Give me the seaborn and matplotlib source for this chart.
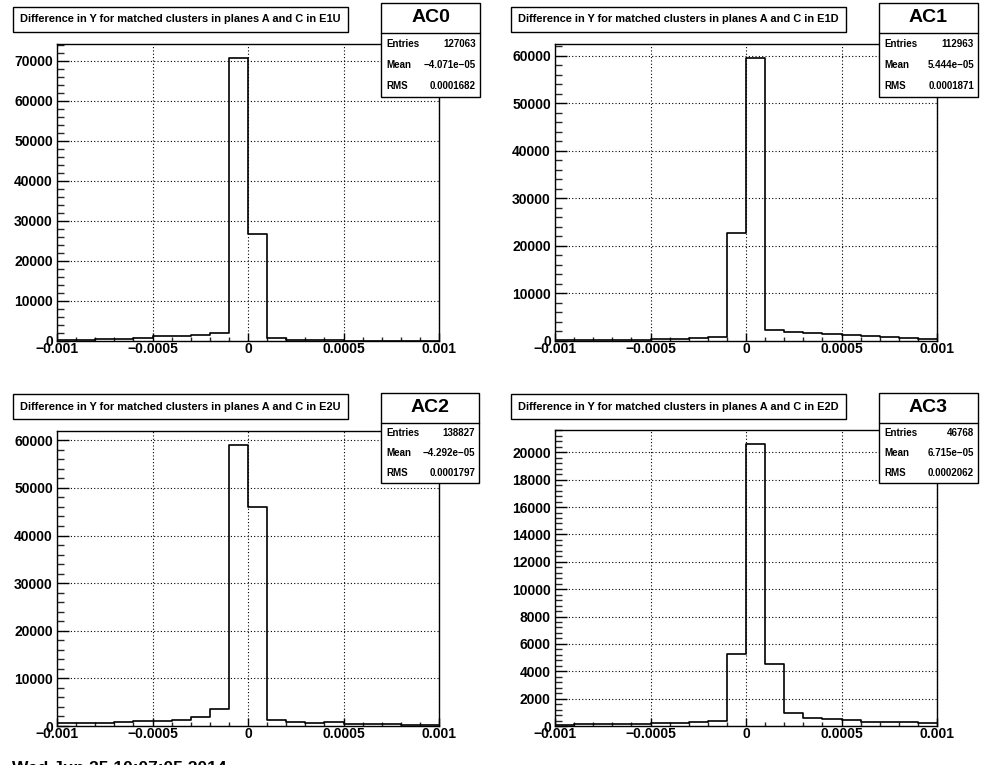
import numpy as np
import pandas as pd
import seaborn as sns
import matplotlib
matplotlib.use("Agg")
import matplotlib.pyplot as plt
from matplotlib.ticker import MultipleLocator, FixedLocator, FixedFormatter
from matplotlib.patches import Rectangle
from matplotlib.lines import Line2D

# ---------------- data ----------------
n_bins = 20
x_range = (-0.001, 0.001)
x_ticks = [-0.001, -0.0005, 0.0, 0.0005, 0.001]
x_tick_labels = ["\u22120.001", "\u22120.0005", "0", "0.0005", "0.001"]

counts_ac0 = [300, 300, 550, 550, 750, 1150, 1150, 1450, 2000, 70600,
              26800, 800, 350, 330, 150, 120, 100, 100, 80, 80]
counts_ac1 = [130, 130, 140, 150, 160, 330, 330, 540, 820, 22800,
              59500, 2280, 1900, 1680, 1470, 1250, 1000, 740, 540, 360]
counts_ac2 = [560, 560, 560, 840, 1050, 1050, 1260, 1820, 3570, 59000,
              46000, 1260, 840, 630, 840, 420, 420, 350, 140, 140]
counts_ac3 = [80, 125, 125, 125, 125, 200, 200, 275, 375, 5250,
              20600, 4520, 950, 575, 500, 425, 275, 275, 275, 200]

names = ["AC0", "AC1", "AC2", "AC3"]
titles = ["Difference in Y for matched clusters in planes A and C in E1U",
          "Difference in Y for matched clusters in planes A and C in E1D",
          "Difference in Y for matched clusters in planes A and C in E2U",
          "Difference in Y for matched clusters in planes A and C in E2D"]
entries = ["127063", "112963", "138827", "46768"]
means = ["\u22124.071e\u221205", "5.444e\u221205", "\u22124.292e\u221205", "6.715e\u221205"]
rms = ["0.0001682", "0.0001871", "0.0001797", "0.0002062"]
y_major = [10000, 10000, 10000, 2000]
date_text = "Wed Jun 25 10:07:05 2014"

all_counts = [counts_ac0, counts_ac1, counts_ac2, counts_ac3]

# ---------------- style ----------------
sns.set_theme(style="white")
plt.rcParams["font.family"] = ["Liberation Sans", "DejaVu Sans"]
plt.rcParams["font.weight"] = "bold"
plt.rcParams["axes.unicode_minus"] = True

W, H = 996, 772
fig = plt.figure(figsize=(W / 100, H / 100), dpi=100)
fig.patch.set_facecolor("white")

def fx(x):
    return x / W

def fy(y):
    return 1 - y / H

# axes boxes in pixels: left, top, right, bottom
ax_px = [(57, 44, 439, 341), (555, 44, 937, 341),
         (57, 431, 439, 726), (555, 430, 937, 726)]
title_px = [(13, 7, 348, 32), (511, 7, 846, 32),
            (13, 394, 348, 419), (511, 394, 846, 419)]
stat_px = [(381, 3, 480, 97, 33), (879, 3, 978, 97, 33),
           (381, 393, 479, 483, 423), (879, 393, 978, 483, 423)]

width = (x_range[1] - x_range[0]) / n_bins
centers = [x_range[0] + width * (k + 0.5) for k in range(n_bins)]

for i in range(4):
    l, t, r, b = ax_px[i]
    ax = fig.add_axes([fx(l), fy(b), (r - l) / W, (b - t) / H])
    df = pd.DataFrame({"x": centers, "w": all_counts[i]})
    sns.histplot(data=df, x="x", weights="w", bins=n_bins, binrange=x_range,
                 element="step", fill=False, color="black", linewidth=1.2, ax=ax)
    ax.set_xlim(*x_range)
    ax.set_ylim(0, 1.05 * max(all_counts[i]))
    ax.set_xlabel("")
    ax.set_ylabel("")
    ax.xaxis.set_major_locator(FixedLocator(x_ticks))
    ax.xaxis.set_major_formatter(FixedFormatter(x_tick_labels))
    ax.xaxis.set_minor_locator(MultipleLocator(0.0001))
    ax.yaxis.set_major_locator(MultipleLocator(y_major[i]))
    ax.yaxis.set_minor_locator(MultipleLocator(y_major[i] / 5))
    ax.tick_params(axis="x", which="major", direction="in", length=6, width=1,
                   pad=1, labelsize=10, bottom=True, top=False, colors="black")
    ax.tick_params(axis="x", which="minor", direction="in", length=3, width=1,
                   bottom=True, top=False)
    ax.tick_params(axis="y", which="major", direction="in", length=8.5, width=1,
                   pad=3, labelsize=10, left=True, right=False, colors="black")
    ax.tick_params(axis="y", which="minor", direction="in", length=5, width=1,
                   left=True, right=False)
    for lab in ax.get_xticklabels() + ax.get_yticklabels():
        lab.set_fontweight("bold")
    ax.grid(True, which="major", color="black", linestyle=(0, (1, 2)), linewidth=0.8)
    for s in ax.spines.values():
        s.set_color("black")
        s.set_linewidth(1)
    ax.set_axisbelow(True)

    # title box
    tl, tt, tr, tb = title_px[i]
    fig.add_artist(Rectangle((fx(tl), fy(tb)), (tr - tl) / W, (tb - tt) / H,
                             transform=fig.transFigure, facecolor="white",
                             edgecolor="black", linewidth=1))
    fig.text(fx((tl + tr) / 2), fy((tt + tb) / 2), titles[i], ha="center",
             va="center", fontsize=7.9, fontweight="bold", color="black")

    # stats box
    sl, st, sr, sb, ss = stat_px[i]
    fig.add_artist(Rectangle((fx(sl), fy(sb)), (sr - sl) / W, (sb - st) / H,
                             transform=fig.transFigure, facecolor="white",
                             edgecolor="black", linewidth=1, zorder=5))
    fig.add_artist(Line2D([fx(sl), fx(sr)], [fy(ss), fy(ss)],
                          transform=fig.transFigure, color="black",
                          linewidth=1, zorder=6))
    fig.text(fx((sl + sr) / 2), fy((st + ss) / 2), names[i], ha="center",
             va="center", fontsize=14, fontweight="bold", color="black", zorder=7)
    row_h = (sb - ss) / 3
    rows = [("Entries", entries[i]), ("Mean", means[i]), ("RMS", rms[i])]
    for k, (lab, val) in enumerate(rows):
        yc = ss + row_h * (k + 0.5)
        fig.text(fx(sl + 5), fy(yc), lab, ha="left", va="center", fontsize=7,
                 fontweight="bold", color="black", zorder=7)
        fig.text(fx(sr - 4), fy(yc), val, ha="right", va="center", fontsize=7,
                 fontweight="bold", color="black", zorder=7)

# date stamp, cut off at the bottom edge as in the reference
fig.text(fx(12), fy(761), date_text, ha="left", va="top", fontsize=12.5,
         fontweight="bold", color="black", zorder=1)
fig.add_artist(Rectangle((0, 0), 1, fy(765), transform=fig.transFigure,
                         facecolor="white", edgecolor="none", zorder=10))

fig.savefig("out.png", dpi=100, facecolor="white")
